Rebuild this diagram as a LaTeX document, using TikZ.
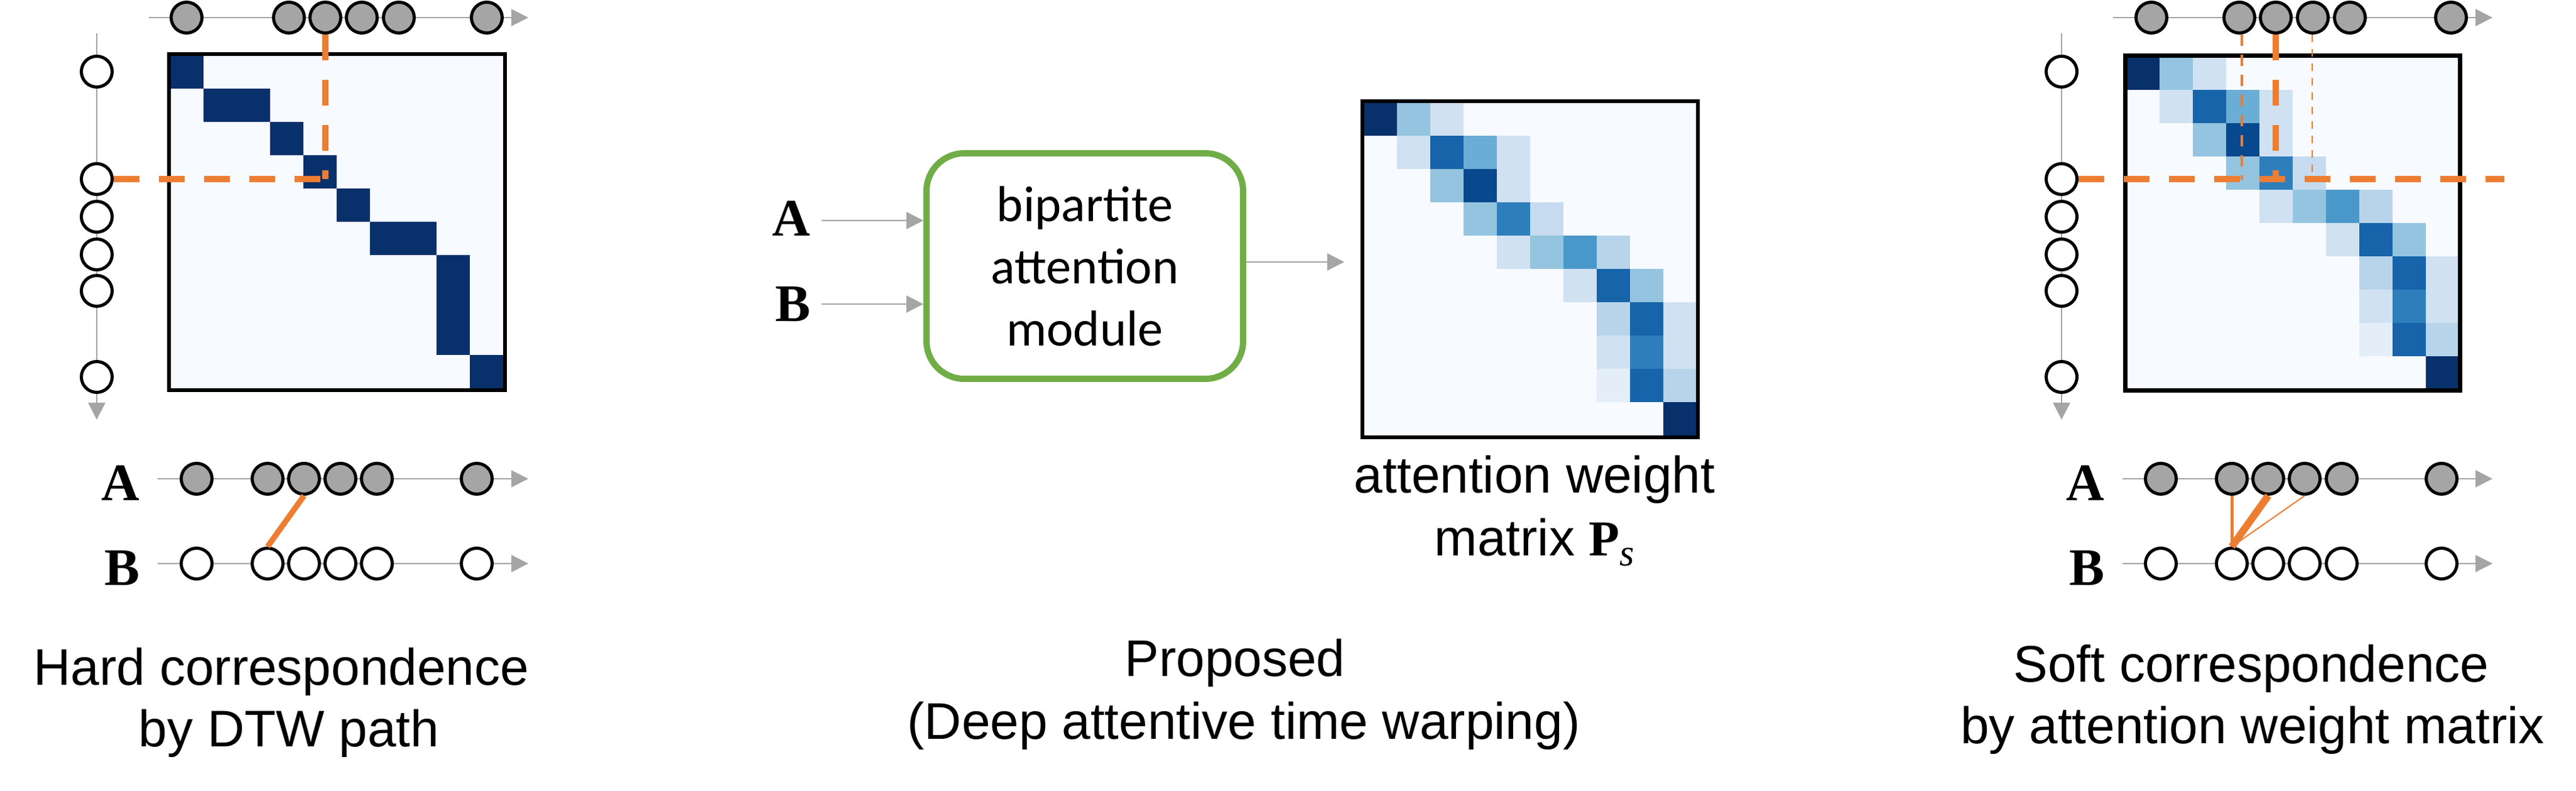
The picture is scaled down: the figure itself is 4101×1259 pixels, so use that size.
\documentclass[tikz,border=0pt]{standalone}
\usepackage{fontspec}
\setmainfont{Liberation Sans}
\newfontfamily\calfont{Carlito}
\newfontfamily\serfont{Liberation Serif}
\usetikzlibrary{arrows.meta}

\definecolor{axgray}{HTML}{A5A5A5}
\definecolor{orng}{HTML}{ED7D31}
\definecolor{grn}{HTML}{70AD47}
\definecolor{bg}{HTML}{F7FBFF}
\definecolor{bA}{HTML}{08306B}
\definecolor{bB}{HTML}{08488E}
\definecolor{bC}{HTML}{1764AB}
\definecolor{bD}{HTML}{2E7EBC}
\definecolor{bE}{HTML}{4A98C9}
\definecolor{bF}{HTML}{6AAED6}
\definecolor{bG}{HTML}{94C4DF}
\definecolor{bH}{HTML}{B7D4EA}
\definecolor{bI}{HTML}{C6DBEF}
\definecolor{bJ}{HTML}{D0E1F2}
\definecolor{bK}{HTML}{E3EEF9}

\newcommand\softcells{0/0/bA,0/1/bG,0/2/bJ,1/1/bJ,1/2/bC,1/3/bF,1/4/bJ,2/2/bG,2/3/bB,2/4/bJ,3/3/bG,3/4/bD,3/5/bI,4/4/bJ,4/5/bG,4/6/bE,4/7/bH,5/6/bJ,5/7/bC,5/8/bG,6/7/bH,6/8/bC,6/9/bJ,7/7/bJ,7/8/bD,7/9/bJ,8/7/bK,8/8/bC,8/9/bH,9/9/bA}
\newcommand\hardcells{0/0,1/1,1/2,2/3,3/4,4/5,5/6,5/7,6/8,7/8,8/8,9/9}
\newcommand\softmatrix[2]{%
  \fill[bg] (#1,#2) rectangle ++(530,530);
  \foreach \r/\c/\k in \softcells {\fill[\k] ({#1+\c*53},{#2+\r*53}) rectangle ++(53,53);}
}

\begin{document}
\begin{tikzpicture}[x=0.25pt,y=-0.25pt,
  seqaxis/.style={draw=axgray,line width=0.6pt,-{Triangle[length=6.75pt,width=6.75pt]}},
  gdot/.style={circle,draw=black,line width=1.25pt,fill=axgray,minimum size=12.25pt,inner sep=0pt},
  wdot/.style={gdot,fill=white},
  seqlab/.style={font=\serfont\bfseries\fontsize{21pt}{25pt}\selectfont,inner sep=0pt,anchor=base},
  captxt/.style={font=\fontsize{20.5pt}{24.5pt}\selectfont,inner sep=0pt,anchor=base},
  thickdash/.style={draw=orng,line width=2.4pt,dash pattern=on 10.25pt off 7.75pt},
  meddash/.style={draw=orng,line width=1pt,dash pattern=on 4.5pt off 3.5pt},
  thindash/.style={draw=orng,line width=0.65pt,dash pattern=on 3pt off 2.75pt},
  mframe/.style={draw=black,line width=1.6pt},
  modbox/.style={draw=grn,line width=2.5pt,rounded corners=15pt,minimum width=126pt,minimum height=89.75pt,inner sep=0pt,align=center,font=\calfont\fontsize{20.1pt}{24.75pt}\selectfont}
]
\useasboundingbox (0,0) rectangle (4101,1259);

%================ LEFT PANEL =================
\fill[bg] (271,88) rectangle ++(530,530);
\foreach \r/\c in \hardcells {\fill[bA] ({271+\c*53},{88+\r*53}) rectangle ++(53,53);}
\draw[mframe] (269,86) rectangle (804,621);
\coordinate (ltS) at (237,28); \coordinate (ltE) at (841,28);
\draw[seqaxis] (ltS) -- (ltE);
\foreach \n/\x in {1/297,2/460,3/518,4/576,5/635,6/775} \node[gdot] (lt\n) at (\x,28) {};
\coordinate (lvS) at (154,53); \coordinate (lvE) at (154,668);
\draw[seqaxis] (lvS) -- (lvE);
\foreach \n/\y in {1/114,2/285,3/345,4/405,5/463,6/600} \node[wdot] (lv\n) at (154,\y) {};
\draw[thickdash] (lt3.south) -- (lt3.south |- lv2.east);
\draw[thickdash] (lv2.east) -- (lt3.south |- lv2.east);
\coordinate (laS) at (251,762); \coordinate (laE) at (841,762);
\coordinate (lbS) at (251,897); \coordinate (lbE) at (841,897);
\draw[seqaxis] (laS) -- (laE);
\draw[seqaxis] (lbS) -- (lbE);
\foreach \n/\x in {1/313,2/426,3/484,4/542,5/600,6/759} {
  \node[gdot] (la\n) at (\x,762) {};
  \node[wdot] (lb\n) at (\x,897) {};
}
\draw[orng,line width=2.25pt] (la3.south) -- (lb2.north);
\node[seqlab] (lA) at (192,797) {A};
\node[seqlab] (lB) at (195,932) {B};
\node[captxt] (lc1) at (448,1091) {Hard correspondence};
\node[captxt] (lc2) at (460,1189) {by DTW path};

%================ MIDDLE PANEL =================
\node[seqlab] (mA) at (1260,376) {A};
\node[seqlab] (mB) at (1262,512) {B};
\node[modbox] (bam) at (1727,423.5) {bipartite\\attention\\module};
\coordinate (maS) at (1308,351); \coordinate (mbS) at (1308,484);
\draw[seqaxis] (maS) -- (maS -| bam.west);
\draw[seqaxis] (mbS) -- (mbS -| bam.west);
\softmatrix{2171}{163}
\draw[mframe] (2169,161) rectangle (2703,696);
\coordinate (moE) at (2140,417);
\draw[seqaxis] (bam.east |- moE) -- (moE);
\node[captxt] (mw1) at (2443,785) {attention weight};
\node[captxt] (mw2) at (2443,885) {matrix {\serfont\bfseries\fontsize{20pt}{24pt}\selectfont P}\raisebox{-4pt}{\serfont\itshape\fontsize{15pt}{15pt}\selectfont s}};
\node[captxt] (mc1) at (1966,1077) {Proposed};
\node[captxt] (mc2) at (1980,1177) {(Deep attentive time warping)};

%================ RIGHT PANEL =================
\softmatrix{3385}{90}
\draw[mframe] (3383.5,88.5) rectangle (3916.5,621.5);
\coordinate (rtS) at (3364,28); \coordinate (rtE) at (3968,28);
\draw[seqaxis] (rtS) -- (rtE);
\foreach \n/\x in {1/3425,2/3565,3/3623,4/3682,5/3741,6/3902} \node[gdot] (rt\n) at (\x,28) {};
\coordinate (rvS) at (3282,53); \coordinate (rvE) at (3282,668);
\draw[seqaxis] (rvS) -- (rvE);
\foreach \n/\y in {1/114,2/285,3/345,4/405,5/463,6/600} \node[wdot] (rv\n) at (3282,\y) {};
\coordinate (rhE) at (3987,285);
\coordinate (rmE) at (3569,286);
\coordinate (rnE) at (3681,281);
\draw[meddash] (rt2.south -| rmE) -- (rmE);
\draw[thindash] (rt4.south -| rnE) -- (rnE);
\draw[thickdash] (rt3.south) -- (rt3.south |- rv2.east);
\draw[thickdash] (rv2.east) -- (rhE);
\coordinate (raS) at (3379,762); \coordinate (raE) at (3968,762);
\coordinate (rbS) at (3379,897); \coordinate (rbE) at (3968,897);
\draw[seqaxis] (raS) -- (raE);
\draw[seqaxis] (rbS) -- (rbE);
\foreach \n/\x in {1/3440,2/3553,3/3611,4/3669,5/3728,6/3887} {
  \node[gdot] (ra\n) at (\x,762) {};
  \node[wdot] (rb\n) at (\x,897) {};
}
\draw[orng,line width=1.25pt] (rb2.north) -- (ra2.south);
\draw[orng,line width=2.9pt] (rb2.north) -- (ra3.south);
\draw[orng,line width=0.5pt] (rb2.north) -- (ra4.south);
\node[seqlab] (rA) at (3320,797) {A};
\node[seqlab] (rB) at (3322,932) {B};
\node[captxt] (rc1) at (3584,1086) {Soft correspondence};
\node[captxt] (rc2) at (3586,1184) {by attention weight matrix};
\end{tikzpicture}
\end{document}
